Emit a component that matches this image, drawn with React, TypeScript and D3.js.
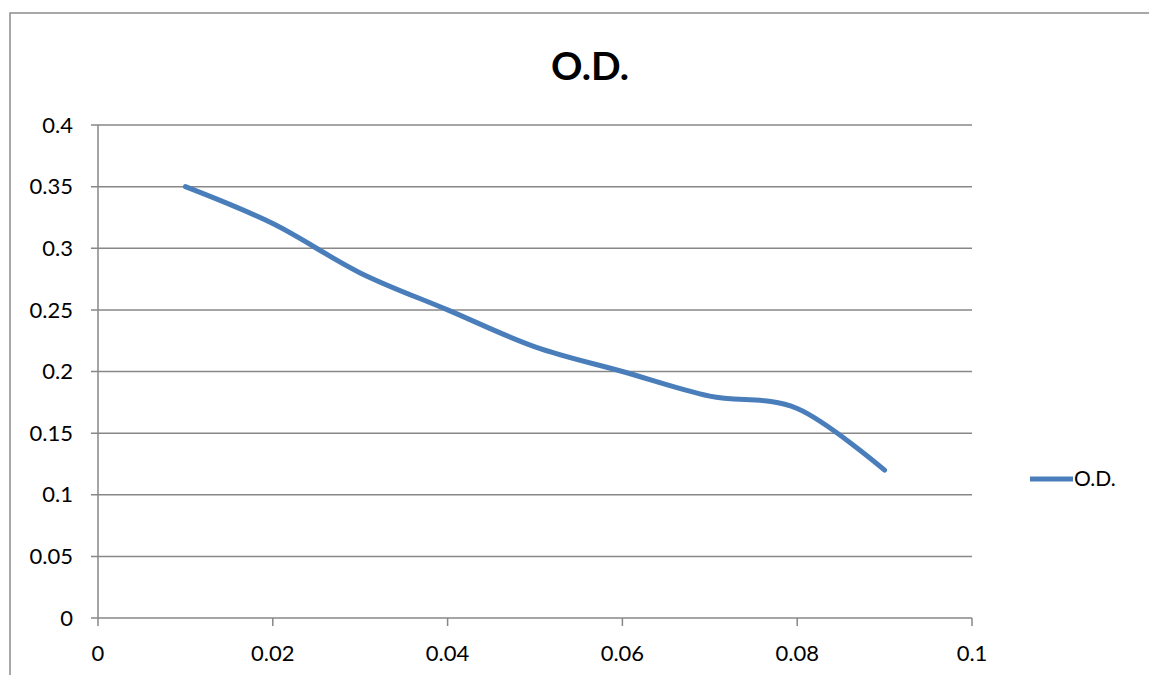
import React, { useEffect, useRef } from "react";
import * as d3 from "d3";

const xValues = [0.01, 0.02, 0.03, 0.04, 0.05, 0.06, 0.07, 0.08, 0.09];
const odValues = [0.35, 0.32, 0.28, 0.25, 0.22, 0.2, 0.18, 0.17, 0.12];
const xTicks = [0, 0.02, 0.04, 0.06, 0.08, 0.1];
const yTicks = [0, 0.05, 0.1, 0.15, 0.2, 0.25, 0.3, 0.35, 0.4];
const seriesName = "O.D.";
const title = "O.D.";

const W = 1149;
const H = 675;
const FONT = "Lato, 'Open Sans', 'Liberation Sans', sans-serif";

export default function App() {
  const ref = useRef<SVGSVGElement>(null);
  useEffect(() => {
    const svg = d3.select(ref.current);
    svg.selectAll("*").remove();
    const x = d3.scaleLinear().domain([0, 0.1]).range([98, 972]);
    const y = d3.scaleLinear().domain([0, 0.4]).range([618, 125]);
    const grid = "#878787";

    svg.append("rect").attr("x", 0).attr("y", 0).attr("width", W).attr("height", H).attr("fill", "#fff");
    // chart border
    svg.append("rect").attr("x", 10).attr("y", 13).attr("width", W).attr("height", H)
      .attr("fill", "none").attr("stroke", "#8c8c8c").attr("stroke-width", 1.5);

    // gridlines
    svg.append("g").selectAll("line").data(yTicks).join("line")
      .attr("x1", 91).attr("x2", x(0.1)).attr("y1", d => y(d)).attr("y2", d => y(d))
      .attr("stroke", grid).attr("stroke-width", 1.5);
    // y axis
    svg.append("line").attr("x1", x(0)).attr("x2", x(0)).attr("y1", y(0.4)).attr("y2", y(0))
      .attr("stroke", grid).attr("stroke-width", 1.5);
    // x ticks
    svg.append("g").selectAll("line").data(xTicks).join("line")
      .attr("x1", d => x(d)).attr("x2", d => x(d)).attr("y1", y(0)).attr("y2", y(0) + 8)
      .attr("stroke", grid).attr("stroke-width", 1.5);

    svg.append("g").selectAll("text").data(yTicks).join("text")
      .attr("x", 73).attr("y", d => y(d)).attr("dy", "0.35em").attr("text-anchor", "end")
      .attr("font-family", FONT).attr("font-size", 22).attr("fill", "#000")
      .text(d => String(d));
    svg.append("g").selectAll("text").data(xTicks).join("text")
      .attr("x", d => x(d)).attr("y", 661).attr("text-anchor", "middle")
      .attr("font-family", FONT).attr("font-size", 22).attr("fill", "#000")
      .text(d => String(d));

    const line = d3.line<number>()
      .x((_, i) => x(xValues[i]))
      .y(d => y(d))
      .curve(d3.curveCardinal.tension(0));
    svg.append("path").datum(odValues).attr("d", line)
      .attr("fill", "none").attr("stroke", "#4a7ebb").attr("stroke-width", 5)
      .attr("stroke-linecap", "round").attr("stroke-linejoin", "round");

    svg.append("text").attr("x", 590).attr("y", 80).attr("text-anchor", "middle")
      .attr("font-family", FONT).attr("font-weight", "bold").attr("font-size", 39)
      .attr("fill", "#000").text(title);

    // legend
    svg.append("line").attr("x1", 1030).attr("x2", 1073).attr("y1", 479).attr("y2", 479)
      .attr("stroke", "#4a7ebb").attr("stroke-width", 5);
    svg.append("text").attr("x", 1074).attr("y", 479).attr("dy", "0.35em")
      .attr("font-family", FONT).attr("font-size", 21).attr("fill", "#000").text(seriesName);
  }, []);
  return (
    <svg ref={ref} width={W} height={H}
      style={{ position: "absolute", left: 0, top: 0, display: "block" }} />
  );
}
